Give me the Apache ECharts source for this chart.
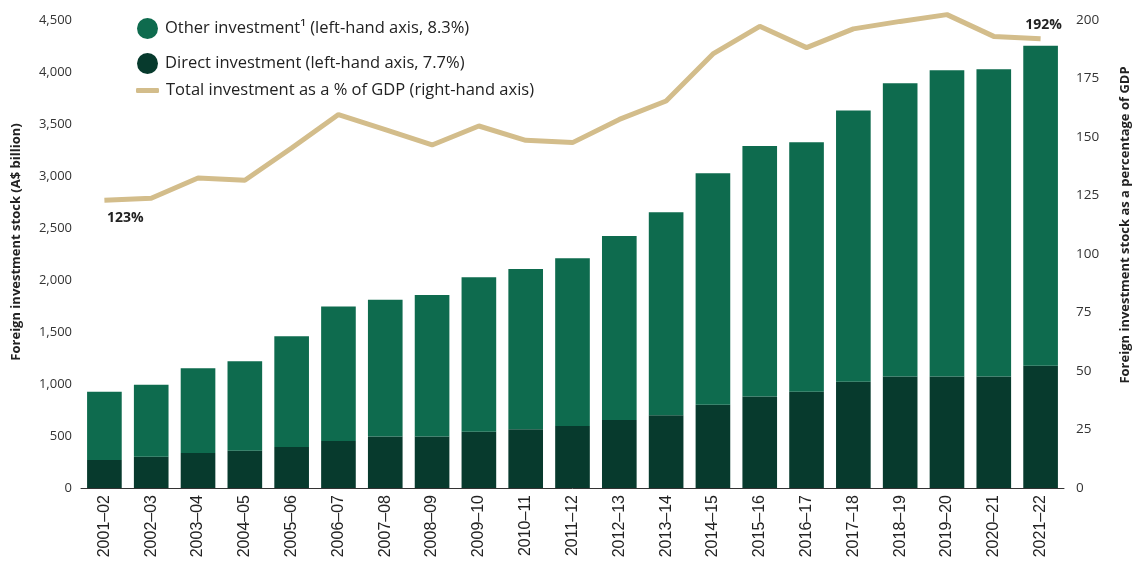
<!DOCTYPE html>
<html>
<head>
    <meta charset="utf-8">
    <title>Foreign investment stock</title>
    <script src="https://cdn.jsdelivr.net/npm/echarts@6/dist/echarts.min.js"></script>
    <style>
        html, body { margin: 0; padding: 0; background: #fff; }
    </style>
</head>
<body>
    <div id="main" style="width: 1140px;height:566px;"></div>
    <script type="text/javascript">
        // financial years
        var years = ['2001–02', '2002–03', '2003–04', '2004–05', '2005–06', '2006–07', '2007–08',
            '2008–09', '2009–10', '2010–11', '2011–12', '2012–13', '2013–14', '2014–15',
            '2015–16', '2016–17', '2017–18', '2018–19', '2019–20', '2020–21', '2021–22'];

        // A$ billion (stacked)
        var directInv = [269, 301, 336, 359, 394, 452, 494, 494, 542, 564, 596, 654, 699, 801,
            881, 926, 1021, 1071, 1071, 1071, 1176];
        var otherInv = [657, 692, 815, 859, 1064, 1292, 1317, 1362, 1484, 1542, 1612, 1769, 1952, 2225,
            2407, 2398, 2610, 2820, 2945, 2955, 3077];

        // % of GDP
        var pctGdp = [123, 123.8, 132.5, 131.5, 145.3, 159.6, 153.2, 146.6, 154.7, 148.6, 147.6, 157.5,
            165.4, 185.5, 197.3, 188.2, 196.2, 199.4, 202.3, 193, 192];

        var NAMES = {
            other: 'Other investment¹ (left-hand axis, 8.3%)',
            direct: 'Direct investment (left-hand axis, 7.7%)',
            total: 'Total investment as a % of GDP (right-hand axis)'
        };

        var FONT = '"Open Sans", "Noto Sans", sans-serif';
        var TXT = '#222';

        var lineData = [];
        for (var i = 0; i < pctGdp.length; i++) {
            var item = { value: pctGdp[i] };
            if (i == 0) {
                item.label = { show: true, position: 'bottom', distance: 11, offset: [21, 0] };
            } else if (i == pctGdp.length - 1) {
                item.label = { show: true, position: 'top', distance: 7, offset: [3, 0] };
            }
            lineData.push(item);
        }

        var option = {
            animation: false,
            textStyle: { fontFamily: FONT },
            grid: { left: 81, right: 62, top: 20, bottom: 78 },
            legend: [{
                orient: 'vertical',
                left: 132,
                top: 13,
                itemWidth: 21,
                itemHeight: 21,
                itemGap: 14,
                icon: 'circle',
                textStyle: { fontFamily: FONT, fontSize: 16.5, color: TXT, padding: [0, 0, 0, 2] },
                data: [NAMES.other, NAMES.direct]
            }, {
                orient: 'vertical',
                left: 131,
                top: 77,
                itemWidth: 23,
                itemHeight: 5,
                icon: 'roundRect',
                textStyle: { fontFamily: FONT, fontSize: 16.5, color: TXT, padding: [0, 0, 0, 2] },
                data: [NAMES.total]
            }],
            xAxis: {
                type: 'category',
                data: years,
                axisLine: { lineStyle: { color: '#333', width: 1 } },
                axisTick: { show: false },
                axisLabel: {
                    rotate: 90,
                    interval: 0,
                    margin: 7,
                    fontFamily: '"Liberation Sans", Arial, sans-serif',
                    fontSize: 16,
                    color: TXT
                }
            },
            yAxis: [{
                type: 'value',
                min: 0,
                max: 4500,
                interval: 500,
                name: 'Foreign investment stock (A$ billion)',
                nameLocation: 'middle',
                nameRotate: 90,
                nameGap: 58,
                nameTextStyle: {
                    fontFamily: FONT, fontSize: 13, fontWeight: 'bold', color: TXT,
                    padding: [0, 0, 0, 24]
                },
                axisLine: { show: false },
                axisTick: { show: false },
                splitLine: { show: false },
                axisLabel: {
                    margin: 9,
                    fontFamily: FONT,
                    fontSize: 13,
                    color: '#333',
                    formatter: function (v) { return v.toLocaleString('en-US'); }
                }
            }, {
                type: 'value',
                min: 0,
                max: 200,
                interval: 25,
                position: 'right',
                name: 'Foreign investment stock as a percentage of GDP',
                nameLocation: 'middle',
                nameRotate: 90,
                nameGap: 55,
                nameTextStyle: {
                    fontFamily: FONT, fontSize: 13, fontWeight: 'bold', color: TXT,
                    padding: [0, 0, 0, 58]
                },
                axisLine: { show: false },
                axisTick: { show: false },
                splitLine: { show: false },
                axisLabel: { margin: 12, fontFamily: FONT, fontSize: 13.5, color: '#333' }
            }],
            series: [{
                name: NAMES.direct,
                type: 'bar',
                stack: 'inv',
                barCategoryGap: '26%',
                itemStyle: { color: '#073A2D' },
                data: directInv
            }, {
                name: NAMES.other,
                type: 'bar',
                stack: 'inv',
                itemStyle: { color: '#0E6B4E' },
                data: otherInv
            }, {
                name: NAMES.total,
                type: 'line',
                yAxisIndex: 1,
                clip: false,
                symbol: 'circle',
                symbolSize: 0.1,
                showSymbol: true,
                lineStyle: { color: '#D3BD8B', width: 5 },
                itemStyle: { color: '#D3BD8B' },
                label: {
                    show: false,
                    formatter: '{c}%',
                    fontFamily: FONT,
                    fontSize: 14,
                    fontWeight: 'bold',
                    color: TXT
                },
                data: lineData
            }]
        };

        var myChart = echarts.init(document.getElementById('main'));
        myChart.setOption(option);
    </script>
</body>
</html>
